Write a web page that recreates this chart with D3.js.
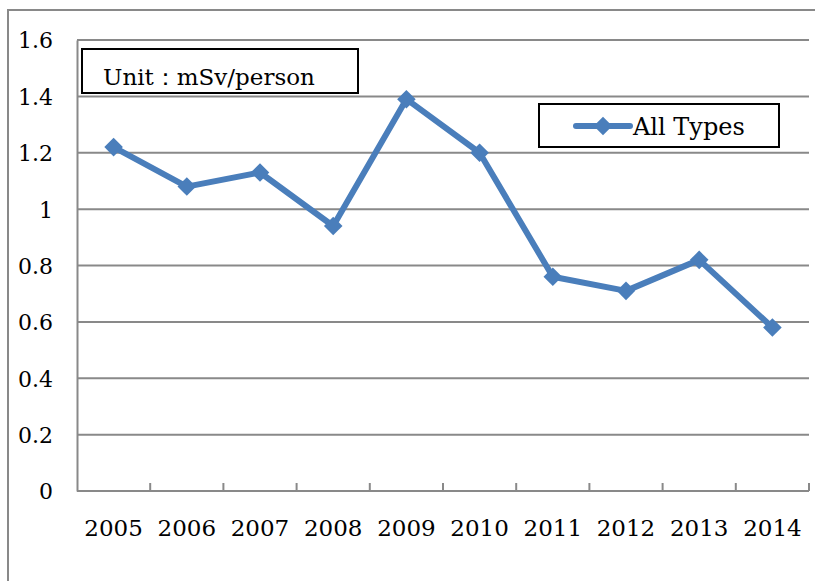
<!DOCTYPE html>
<html>
<head>
<meta charset="utf-8">
<script src="https://cdn.jsdelivr.net/npm/d3@7"></script>
<style>
  body { margin: 0; background: #fff; }
</style>
</head>
<body>
<div id="chart"></div>
<script>
const years = ["2005", "2006", "2007", "2008", "2009", "2010", "2011", "2012", "2013", "2014"]
const allTypes = [1.22, 1.08, 1.13, 0.94, 1.39, 1.20, 0.76, 0.71, 0.82, 0.58]
const yTicks = [0, 0.2, 0.4, 0.6, 0.8, 1, 1.2, 1.4, 1.6]
const seriesName = "All Types"
const unitLabel = "Unit\uFF1AmSv/person"

const width = 815
const height = 581
const blue = "#4A7EBB"
const gray = "#898989"
const serif = "'DejaVu Serif', 'Liberation Serif', serif"

const svg = d3.select("#chart").append("svg")
  .attr("width", width)
  .attr("height", height)

// outer chart frame (runs off the right and bottom edges)
svg.append("rect")
  .attr("x", 8).attr("y", 10)
  .attr("width", width + 20).attr("height", height + 20)
  .attr("fill", "none").attr("stroke", gray).attr("stroke-width", 2)

const plot = { left: 77, top: 40, right: 809, bottom: 491 }

const x = d3.scaleBand().domain(years).range([plot.left, plot.right])
const y = d3.scaleLinear().domain([0, 1.6]).range([plot.bottom, plot.top])

// horizontal grid
svg.append("g")
  .selectAll("line")
  .data(yTicks.filter(d => d > 0))
  .enter()
  .append("line")
  .attr("x1", plot.left).attr("x2", plot.right)
  .attr("y1", d => y(d)).attr("y2", d => y(d))
  .attr("stroke", gray).attr("stroke-width", 2)

// y axis
const yAxis = svg.append("g")
  .attr("transform", "translate(" + plot.left + ",0)")
  .call(d3.axisLeft(y).tickValues(yTicks).tickSize(0).tickPadding(24).tickFormat(d => String(d)))
yAxis.select(".domain").attr("stroke", gray).attr("stroke-width", 2)
yAxis.selectAll("text")
  .style("font-family", serif).style("font-size", "22px")
  .attr("fill", "#000").attr("dy", "0.36em")

// x axis, ticks at band edges pointing up
const xAxis = svg.append("g")
  .attr("transform", "translate(0," + plot.bottom + ")")
xAxis.append("line")
  .attr("x1", plot.left).attr("x2", plot.right)
  .attr("stroke", gray).attr("stroke-width", 2)
xAxis.selectAll(".tk")
  .data(years)
  .enter()
  .append("line")
  .attr("class", "tk")
  .attr("x1", d => x(d) + x.bandwidth()).attr("x2", d => x(d) + x.bandwidth())
  .attr("y1", 0).attr("y2", -8)
  .attr("stroke", gray).attr("stroke-width", 2)
xAxis.selectAll(".lbl")
  .data(years)
  .enter()
  .append("text")
  .attr("class", "lbl")
  .attr("x", d => x(d) + x.bandwidth() / 2)
  .attr("y", 45)
  .attr("text-anchor", "middle")
  .style("font-family", serif).style("font-size", "23px")
  .text(d => d)

// series
const line = d3.line()
  .x((d, i) => x(years[i]) + x.bandwidth() / 2)
  .y(d => y(d))

svg.append("path")
  .datum(allTypes)
  .attr("d", line)
  .attr("fill", "none")
  .attr("stroke", blue)
  .attr("stroke-width", 6)
  .attr("stroke-linejoin", "round")

const diamond = d3.symbol().type(d3.symbolDiamond2).size(220)
svg.append("g")
  .selectAll("path")
  .data(allTypes)
  .enter()
  .append("path")
  .attr("d", diamond)
  .attr("transform", (d, i) => "translate(" + (x(years[i]) + x.bandwidth() / 2) + "," + y(d) + ")")
  .attr("fill", blue)

// unit box
svg.append("rect")
  .attr("x", 82).attr("y", 49).attr("width", 276).attr("height", 44)
  .attr("fill", "#fff").attr("stroke", "#000").attr("stroke-width", 2)
svg.append("text")
  .attr("x", 103).attr("y", 85)
  .style("font-family", serif).style("font-size", "23px")
  .text(unitLabel)

// legend
const lg = svg.append("g").attr("transform", "translate(539,104)")
lg.append("rect")
  .attr("width", 240).attr("height", 43)
  .attr("fill", "#fff").attr("stroke", "#000").attr("stroke-width", 2)
lg.append("line")
  .attr("x1", 37).attr("x2", 91).attr("y1", 22).attr("y2", 22)
  .attr("stroke", blue).attr("stroke-width", 6).attr("stroke-linecap", "round")
lg.append("path")
  .attr("d", diamond)
  .attr("transform", "translate(64,22)")
  .attr("fill", blue)
lg.append("text")
  .attr("x", 94).attr("y", 31)
  .style("font-family", serif).style("font-size", "24px")
  .text(seriesName)
</script>
</body>
</html>
